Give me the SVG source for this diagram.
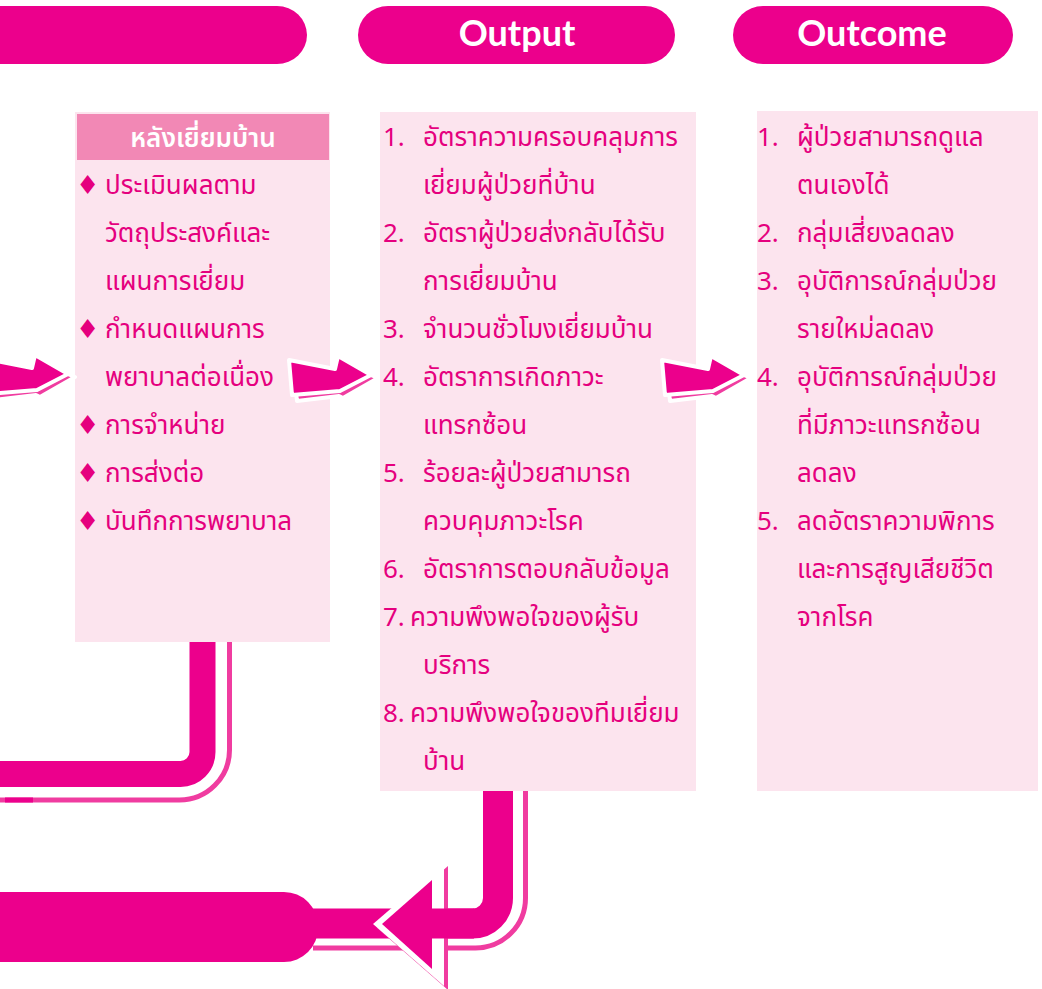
<svg xmlns="http://www.w3.org/2000/svg" xmlns:xlink="http://www.w3.org/1999/xlink" width="1042" height="989" viewBox="0 0 1042 989">
<style>
.pill{fill:#EC008C}
.hd{font-family:Lato,"Open Sans",sans-serif;font-weight:bold;font-size:36px;fill:#fff;text-anchor:middle}
.box{fill:#FCE4EE}
.t{font-family:"Noto Sans Thai","Noto Sans Thai Looped",Loma,Garuda,"Tlwg Typo","Noto Sans",sans-serif;font-size:26px;fill:#E5007E}
.dia{font-family:"DejaVu Sans",sans-serif;font-size:26px;fill:#E5007E}
.bh{font-family:"Noto Sans Thai","Noto Sans Thai Looped",Loma,Garuda,"Noto Sans",sans-serif;font-size:26px;font-weight:600;fill:#fff;text-anchor:middle}
.band{fill:none;stroke:#EC008C}
.thin{fill:none;stroke:#F03CA0;stroke-width:5}
</style>
<defs>
<g id="arr">
<polygon points="4,6 50,14 53,3 89,18 54,38 50,36 8,41" fill="#F03CA0" stroke="#fff" stroke-width="4" stroke-linejoin="round"/>
<polygon points="0,0 46,9 49,-4 82,15 51,31 3,35" fill="#EC008C" stroke="#fff" stroke-width="4" stroke-linejoin="round"/>
</g>
</defs>
<g id="headers">
<rect class="pill" x="-40" y="6" width="347" height="58" rx="30"/>
<rect class="pill" x="358" y="6" width="317" height="58" rx="30"/>
<text class="hd" x="517" y="46">Output</text>
<rect class="pill" x="733" y="6" width="280" height="58" rx="30"/>
<text class="hd" x="872" y="46">Outcome</text>
</g>
<g id="node-after-visit">
<rect class="box" x="75" y="112" width="255" height="530"/>
<rect x="77" y="114" width="252" height="46" fill="#F288B5"/>
<text class="bh" x="203" y="147">หลังเยี่ยมบ้าน</text>
<text class="dia" x="76" y="194">♦</text>
<text class="t" x="105" y="194">ประเมินผลตาม</text>
<text class="t" x="105" y="242">วัตถุประสงค์และ</text>
<text class="t" x="105" y="290">แผนการเยี่ยม</text>
<text class="dia" x="76" y="338">♦</text>
<text class="t" x="105" y="338">กำหนดแผนการ</text>
<text class="t" x="105" y="386">พยาบาลต่อเนื่อง</text>
<text class="dia" x="76" y="434">♦</text>
<text class="t" x="105" y="434">การจำหน่าย</text>
<text class="dia" x="76" y="482">♦</text>
<text class="t" x="105" y="482">การส่งต่อ</text>
<text class="dia" x="76" y="530">♦</text>
<text class="t" x="105" y="530">บันทึกการพยาบาล</text>
</g>
<g id="node-output">
<rect class="box" x="380" y="112" width="316" height="679"/>
<text class="t" x="383" y="146">1.</text><text class="t" x="423" y="146">อัตราความครอบคลุมการ</text>
<text class="t" x="423" y="194">เยี่ยมผู้ป่วยที่บ้าน</text>
<text class="t" x="383" y="242">2.</text><text class="t" x="423" y="242">อัตราผู้ป่วยส่งกลับได้รับ</text>
<text class="t" x="423" y="290">การเยี่ยมบ้าน</text>
<text class="t" x="383" y="338">3.</text><text class="t" x="423" y="338">จำนวนชั่วโมงเยี่ยมบ้าน</text>
<text class="t" x="383" y="386">4.</text><text class="t" x="423" y="386">อัตราการเกิดภาวะ</text>
<text class="t" x="423" y="434">แทรกซ้อน</text>
<text class="t" x="383" y="482">5.</text><text class="t" x="423" y="482">ร้อยละผู้ป่วยสามารถ</text>
<text class="t" x="423" y="530">ควบคุมภาวะโรค</text>
<text class="t" x="383" y="578">6.</text><text class="t" x="423" y="578">อัตราการตอบกลับข้อมูล</text>
<text class="t" x="383" y="626">7.</text><text class="t" x="410" y="626">ความพึงพอใจของผู้รับ</text>
<text class="t" x="423" y="674">บริการ</text>
<text class="t" x="383" y="722">8.</text><text class="t" x="410" y="722">ความพึงพอใจของทีมเยี่ยม</text>
<text class="t" x="423" y="770">บ้าน</text>
</g>
<g id="node-outcome">
<rect class="box" x="757" y="111" width="281" height="680"/>
<text class="t" x="757" y="146">1.</text><text class="t" x="797" y="146">ผู้ป่วยสามารถดูแล</text>
<text class="t" x="797" y="194">ตนเองได้</text>
<text class="t" x="757" y="242">2.</text><text class="t" x="797" y="242">กลุ่มเสี่ยงลดลง</text>
<text class="t" x="757" y="290">3.</text><text class="t" x="797" y="290">อุบัติการณ์กลุ่มป่วย</text>
<text class="t" x="797" y="338">รายใหม่ลดลง</text>
<text class="t" x="757" y="386">4.</text><text class="t" x="797" y="386">อุบัติการณ์กลุ่มป่วย</text>
<text class="t" x="797" y="434">ที่มีภาวะแทรกซ้อน</text>
<text class="t" x="797" y="482">ลดลง</text>
<text class="t" x="757" y="530">5.</text><text class="t" x="797" y="530">ลดอัตราความพิการ</text>
<text class="t" x="797" y="578">และการสูญเสียชีวิต</text>
<text class="t" x="797" y="626">จากโรค</text>
</g>
<g id="connectors">
<use xlink:href="#arr" href="#arr" transform="translate(-14,359)"/>
<use xlink:href="#arr" href="#arr" transform="translate(289,360)"/>
<use xlink:href="#arr" href="#arr" transform="translate(662,360)"/>
<path class="thin" d="M229.5,642 V750 A50,50 0 0 1 179.5,800 H0"/>
<rect x="5" y="797.5" width="28" height="5" fill="#EC008C"/>
<path class="band" stroke-width="26" d="M202.5,642 V752 A22,22 0 0 1 180.5,774 H0"/>
<path class="thin" d="M525.5,791 V898 A50,50 0 0 1 475.5,948 H313"/>
<path class="band" stroke-width="30" d="M498,791 V898 A25.5,25.5 0 0 1 472.5,923.5 H300"/>
<rect class="pill" x="-40" y="892" width="358" height="70" rx="34"/>
<polygon points="377,928 448,866 448,990" fill="#F03CA0"/>
<polygon points="373,924 444,863 444,986" fill="#fff"/>
<polygon points="382,924 432,880 432,969" fill="#EC008C"/>
<path class="band" stroke-width="30" d="M431,923.5 H474"/>
</g>
</svg>
